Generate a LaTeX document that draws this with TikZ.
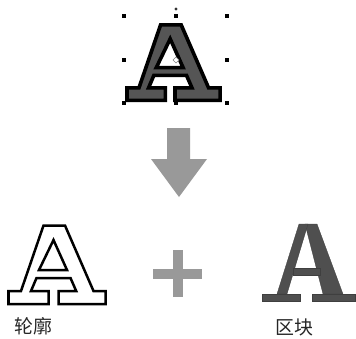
\documentclass[tikz,border=0pt]{standalone}
\usepackage{fontspec}
\newfontfamily\cjk{Noto Sans CJK SC}
\usepackage{tikz}
\usetikzlibrary{positioning}
\usepackage{xcolor}
\definecolor{ink}{HTML}{000000}
\definecolor{glyph}{HTML}{555555}
\definecolor{block}{HTML}{4F4F4F}
\definecolor{signgray}{HTML}{999999}
\tikzset{
  letter/.pic={
    \path[pic actions,even odd rule]
      (35.5,1.5) -- (57,1.5) -- (85.5,67) -- (97.5,67) -- (97.5,80) -- (50.5,80) -- (50.5,67) -- (68.2,67)
      -- (62.5,54) -- (28.5,54) -- (23,67) -- (40.5,67) -- (40.5,80) -- (0.5,80) -- (0.5,67) -- (13,67) -- cycle
      (45.5,16) -- (59,46) -- (31,46) -- cycle;
  },
  filledA/.style={fill=glyph,draw=ink,line width=3.6bp,line join=miter},
  contourA/.style={fill=white,draw=ink,line width=2.5bp,line join=miter},
  piece/.style={fill=block,draw=block!80!black,line width=0.3pt},
  sign/.style={fill=signgray},
  handle/.style={fill=ink,inner sep=0pt,minimum size=3.5pt},
  caption/.style={font=\cjk\fontsize{19}{21}\selectfont,inner sep=0pt,text=ink!85},
}
\begin{document}
\begin{tikzpicture}[x=1bp,y=-1bp]
\useasboundingbox (0,0) rectangle (356,339);
% selected letter
\pic[filledA,scale=0.96] at (126.5,23.5) {letter};
\foreach \hx/\hy [count=\i] in {124/16,176/16,227/16,124/60,227/60,124/103,176/103,227/103}
  \node[handle] (h\i) at (\hx,\hy) {};
\node[circle,fill=ink!80,inner sep=0pt,minimum size=3.5pt] (rot) at (176,9) {};
\draw[ink!50,fill=white] (173,60) -- (176,57) -- (179,60) -- (176,63) -- cycle;
% arrow
\path[sign] (167,128) -- (190,128) -- (190,159) -- (207,159) -- (179,197) -- (151,159) -- (167,159) -- cycle;
% results
\pic[contourA] at (8,224) {letter};
\path[sign] (173,250) rectangle (183,297);
\path[sign] (153,269) rectangle (202,279);
\path[piece] (305,224) -- (317,224) -- (343,294) -- (323,294) -- cycle;
\path[piece] (299,224) -- (308,224) -- (287,294) -- (277,294) -- cycle;
\path[piece] (293,268.5) rectangle (320,275.5);
\path[piece] (262,294) rectangle (300,301.5);
\path[piece] (312,294) rectangle (355,301.5);
\node[caption] (contour) at (33,326) {轮廓};
\node[caption] (pieces) at (294,327) {区块};
\end{tikzpicture}
\end{document}
